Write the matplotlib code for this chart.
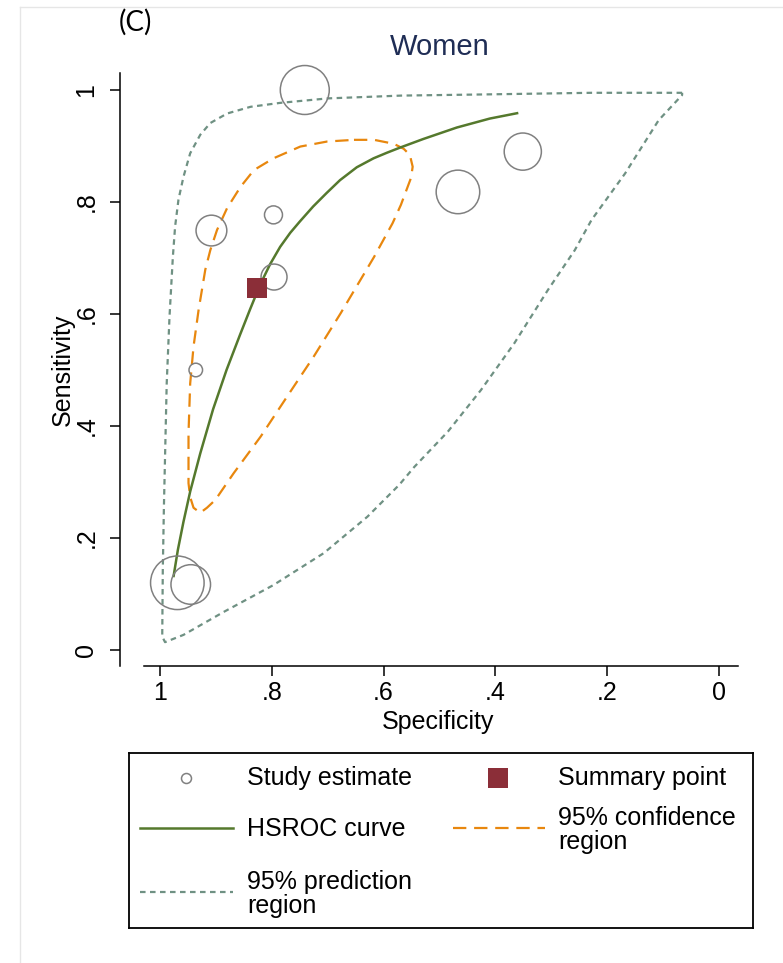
import matplotlib
matplotlib.use("Agg")
import matplotlib.pyplot as plt
import numpy as np
from matplotlib.lines import Line2D

plt.rcParams['font.family'] = ['Liberation Sans', 'DejaVu Sans']

# ---------------- data ----------------
study_spec = [0.741, 0.351, 0.467, 0.797, 0.908, 0.796, 0.936, 0.969, 0.945]
study_sens = [1.000, 0.890, 0.818, 0.777, 0.749, 0.666, 0.500, 0.120, 0.117]
study_weight = [600, 346, 475, 81, 237, 169, 46, 718, 392]

summary_spec = 0.827
summary_sens = 0.646

hsroc_spec = [0.976, 0.968, 0.958, 0.946, 0.928, 0.905, 0.881, 0.857, 0.839, 0.821,
              0.803, 0.785, 0.767, 0.750, 0.726, 0.702, 0.678, 0.648, 0.618, 0.594,
              0.571, 0.529, 0.469, 0.410, 0.359]
hsroc_sens = [0.130, 0.179, 0.229, 0.283, 0.351, 0.430, 0.500, 0.5625, 0.608, 0.652,
              0.689, 0.720, 0.745, 0.765, 0.792, 0.816, 0.839, 0.862, 0.878, 0.888,
              0.897, 0.9125, 0.933, 0.949, 0.959]

conf_spec = [0.653, 0.617, 0.582, 0.564, 0.553, 0.548, 0.551, 0.557, 0.569, 0.584,
             0.617, 0.677, 0.725, 0.773, 0.820, 0.868, 0.901, 0.916, 0.928, 0.940,
             0.946, 0.949, 0.949, 0.946, 0.940, 0.931, 0.919, 0.910, 0.898, 0.880,
             0.856, 0.832, 0.797, 0.749, 0.701]
conf_sens = [0.911, 0.911, 0.904, 0.895, 0.884, 0.863, 0.843, 0.827, 0.795, 0.762,
             0.702, 0.601, 0.524, 0.452, 0.381, 0.316, 0.268, 0.254, 0.245, 0.254,
             0.273, 0.298, 0.387, 0.476, 0.542, 0.607, 0.679, 0.714, 0.750, 0.789,
             0.827, 0.857, 0.878, 0.899, 0.908]

pred_spec = [0.066, 0.228, 0.426, 0.569, 0.700, 0.785, 0.838, 0.880, 0.910, 0.928,
             0.946, 0.958, 0.967, 0.973, 0.977, 0.983, 0.988, 0.993, 0.995, 0.996,
             0.991, 0.958, 0.886, 0.797, 0.707, 0.629, 0.572, 0.545, 0.485, 0.426,
             0.366, 0.306, 0.258, 0.228, 0.168, 0.108, 0.066]
pred_sens = [0.995, 0.995, 0.992, 0.990, 0.985, 0.977, 0.970, 0.958, 0.941, 0.920,
             0.887, 0.845, 0.804, 0.756, 0.702, 0.595, 0.476, 0.256, 0.143, 0.024,
             0.014, 0.027, 0.068, 0.116, 0.173, 0.238, 0.295, 0.327, 0.390, 0.464,
             0.548, 0.643, 0.714, 0.768, 0.851, 0.946, 0.991]

ticks = [1, 0.8, 0.6, 0.4, 0.2, 0]
tick_labels = ['1', '.8', '.6', '.4', '.2', '0']

# ---------------- styles ----------------
C_STUDY = '#808080'
C_HSROC = '#55792d'
C_CONF = '#e8870e'
C_PRED = '#6f9183'
C_SUM = '#8b2e38'
LS_CONF = (0, (6, 3.5))
LS_PRED = (0, (2.5, 2))

W, H = 783, 963
fig = plt.figure(figsize=(W / 100, H / 100), dpi=100)


def fx(px):
    return px / W


def fy(py):
    return 1 - py / H


# faint outer frame
fig.add_artist(Line2D([fx(20), fx(20)], [fy(7), 0], color='#e6e6e6', lw=1))
fig.add_artist(Line2D([fx(20), 1], [fy(7), fy(7)], color='#e6e6e6', lw=1))

ax = fig.add_axes([fx(144), fy(666), (738 - 144) / W, (666 - 73) / H])

ax.plot(np.r_[pred_spec, pred_spec[0]], np.r_[pred_sens, pred_sens[0]],
        color=C_PRED, lw=1.6, linestyle=LS_PRED, zorder=2)
ax.plot(np.r_[conf_spec, conf_spec[0]], np.r_[conf_sens, conf_sens[0]],
        color=C_CONF, lw=1.6, linestyle=LS_CONF, zorder=2)
ax.plot(hsroc_spec, hsroc_sens, color=C_HSROC, lw=1.8, zorder=3,
        solid_capstyle='butt', solid_joinstyle='round')
ax.scatter(study_spec, study_sens, s=np.array(study_weight) * 2.07,
           facecolors='none', edgecolors=C_STUDY, linewidths=1.1, zorder=4,
           clip_on=False)
ax.plot([summary_spec], [summary_sens], marker='s', ms=15, color=C_SUM,
        mew=0, linestyle='none', zorder=5)

ax.set_xlim(1 + 16 / 559, -19 / 559)
ax.set_ylim(-16 / 560, 577 / 560)
ax.set_xticks(ticks)
ax.set_xticklabels(tick_labels)
ax.set_yticks(ticks)
ax.set_yticklabels(tick_labels)

for s in ['top', 'right']:
    ax.spines[s].set_visible(False)
ax.spines['left'].set_position(('outward', 24 * 0.72))
for s in ['left', 'bottom']:
    ax.spines[s].set_linewidth(1.1)

ax.tick_params(length=7.5, width=1.1, labelsize=18, colors='black')
ax.tick_params(axis='x', pad=3)
ax.tick_params(axis='y', pad=8, labelrotation=90)
plt.setp(ax.get_yticklabels(), va='center')

ax.set_xlabel('Specificity', fontsize=18)
ax.xaxis.set_label_coords((438 - 144) / 594, (666 - 722) / 593)
ax.xaxis.label.set_va('center')
ax.set_ylabel('Sensitivity', fontsize=18)
ax.yaxis.set_label_coords((63 - 144) / 594, (666 - 370) / 593)
ax.yaxis.label.set_va('center')

fig.text(fx(440), fy(47), 'Women', fontsize=21, color='#1f2d55',
         ha='center', va='center')
fig.text(fx(135), fy(22), '(C)', fontsize=20, family=['Lato', 'DejaVu Sans'],
         ha='center', va='center')

# ---------------- legend ----------------
L0, L1, T0, T1 = 129, 753, 753, 928
lax = fig.add_axes([fx(L0), fy(T1), (L1 - L0) / W, (T1 - T0) / H])
lax.set_xlim(L0, L1)
lax.set_ylim(T1, T0)
lax.set_xticks([])
lax.set_yticks([])
for s in lax.spines.values():
    s.set_linewidth(1.3)

lax.plot([186], [778], marker='o', ms=7.2, mfc='none', mec=C_STUDY, mew=1.1)
lax.text(247, 778, 'Study estimate', fontsize=18, va='center')
lax.plot([498], [778], marker='s', ms=15, color=C_SUM, mew=0)
lax.text(558, 778, 'Summary point', fontsize=18, va='center')
lax.plot([140, 233], [828, 828], color=C_HSROC, lw=1.8)
lax.text(247, 829, 'HSROC curve', fontsize=18, va='center')
lax.plot([453, 545], [828, 828], color=C_CONF, lw=1.6, linestyle=LS_CONF)
lax.text(558, 830, '95% confidence\nregion', fontsize=18, va='center',
         linespacing=1.0)
lax.plot([140, 233], [892, 892], color=C_PRED, lw=1.6, linestyle=LS_PRED)
lax.text(247, 894, '95% prediction\nregion', fontsize=18, va='center',
         linespacing=1.0)

fig.savefig('out.png', dpi=100)
